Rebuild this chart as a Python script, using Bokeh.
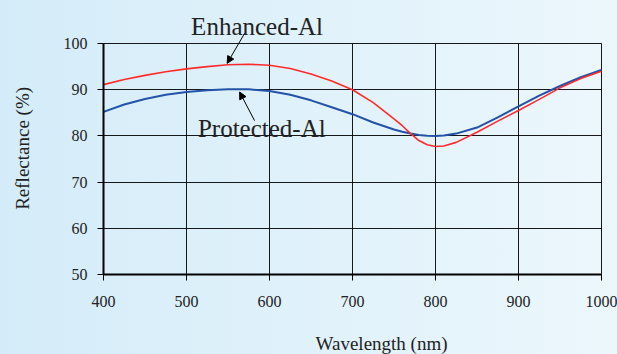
import math
from bokeh.plotting import figure
from bokeh.models import Range1d, FixedTicker, Label, Arrow, NormalHead
from bokeh.embed import file_html
from bokeh.resources import INLINE

# ---- data ----
wavelength = [400, 425, 450, 475, 500, 525, 550, 575, 600, 625, 650, 675, 700,
              725, 750, 760, 770, 780, 790, 800, 810, 825, 850, 875, 900, 925,
              950, 975, 1000]
enhanced_al = [91.1, 92.2, 93.1, 93.9, 94.5, 95.0, 95.4, 95.5, 95.3, 94.6, 93.4,
               91.9, 90.0, 87.2, 83.7, 82.2, 80.5, 79.0, 78.1, 77.7, 77.8, 78.6,
               80.8, 83.2, 85.5, 87.9, 90.4, 92.4, 94.0]
protected_al = [85.2, 86.8, 88.0, 88.9, 89.5, 89.9, 90.1, 90.1, 89.7, 88.9, 87.7,
                86.2, 84.7, 82.9, 81.4, 80.9, 80.5, 80.2, 80.05, 80.0, 80.1, 80.5,
                81.8, 84.0, 86.4, 88.7, 90.8, 92.7, 94.3]
x_ticks = [400, 500, 600, 700, 800, 900, 1000]
y_ticks = [50, 60, 70, 80, 90, 100]
x_bounds = (400, 1000)
y_bounds = (50, 100)

FONT = "'Liberation Serif', serif"
TXT = "#222222"

# the frame covers the whole canvas; the chart box is drawn with bounded axes/grids
p = figure(width=617, height=354, output_backend="svg", toolbar_location=None,
           x_range=Range1d(275.9, 1019.28), y_range=Range1d(32.684, 109.307),
           min_border_left=0, min_border_right=0, min_border_top=0,
           min_border_bottom=0)
p.background_fill_color = None
p.border_fill_color = None
p.styles = {"background": "linear-gradient(to right, #d4ecf9, #ecf7fc)"}
p.outline_line_color = None

p.xaxis.ticker = FixedTicker(ticks=x_ticks)
p.yaxis.ticker = FixedTicker(ticks=y_ticks)
p.xaxis.bounds = x_bounds
p.yaxis.bounds = y_bounds
p.xaxis.fixed_location = y_bounds[0]
p.yaxis.fixed_location = x_bounds[0]
for ax in (p.xaxis[0], p.yaxis[0]):
    ax.axis_line_color = "black"
    ax.axis_line_width = 2
    ax.major_tick_line_color = "black"
    ax.major_tick_in = 0
    ax.major_tick_out = 6
    ax.minor_tick_line_color = None
    ax.major_label_text_font = FONT
    ax.major_label_text_font_size = "16px"
    ax.major_label_text_color = TXT
p.xaxis.major_label_standoff = 16
p.yaxis.major_label_standoff = 10

p.xgrid.ticker = FixedTicker(ticks=x_ticks)
p.ygrid.ticker = FixedTicker(ticks=y_ticks)
p.xgrid.bounds = x_bounds
p.xgrid.cross_bounds = y_bounds
p.ygrid.bounds = y_bounds
p.ygrid.cross_bounds = x_bounds
for g in (p.xgrid[0], p.ygrid[0]):
    g.grid_line_color = "black"
    g.grid_line_width = 1
    g.grid_line_alpha = 0.9

p.line(wavelength, protected_al, line_color="#2352a8", line_width=2)
p.line(wavelength, enhanced_al, line_color="#ff2b2b", line_width=1.6)

# axis titles
p.add_layout(Label(x=735, y=35.07, text="Wavelength (nm)", text_font=FONT,
                   text_font_size="19px", text_color=TXT, text_align="center",
                   text_baseline="middle"))
p.add_layout(Label(x=302, y=77.3, text="Reflectance (%)", text_font=FONT,
                   text_font_size="19px", text_color=TXT, text_align="center",
                   text_baseline="middle", angle=math.pi / 2))

# annotations
p.add_layout(Label(x=585, y=103.65, text="Enhanced-Al", text_font=FONT,
                   text_font_size="25px", text_color=TXT, text_align="center",
                   text_baseline="alphabetic"))
p.add_layout(Label(x=590.7, y=81.5, text="Protected-Al", text_font=FONT,
                   text_font_size="25px", text_color=TXT, text_align="center",
                   text_baseline="alphabetic"))
p.add_layout(Arrow(x_start=570, y_start=102.2, x_end=549, y_end=95.7,
                   line_color="black", line_width=1,
                   end=NormalHead(size=7, fill_color="black", line_color="black")))
p.add_layout(Arrow(x_start=582, y_start=83.3, x_end=564, y_end=89.5,
                   line_color="black", line_width=1,
                   end=NormalHead(size=7, fill_color="black", line_color="black")))

open("out.html", "w").write(file_html(p, INLINE))
